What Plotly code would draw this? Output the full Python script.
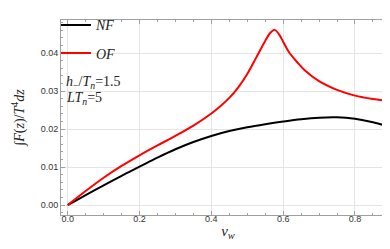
import plotly.graph_objects as go

v_nf = [0.0, 0.05, 0.1, 0.15, 0.2, 0.25, 0.3, 0.35, 0.4, 0.45, 0.5, 0.55,
        0.6, 0.65, 0.7, 0.75, 0.8, 0.85, 0.9]
nf = [0.0, 0.0026, 0.0052, 0.0077, 0.0101, 0.0125, 0.0147, 0.0166, 0.0182,
      0.0195, 0.0205, 0.0213, 0.0220, 0.0226, 0.0230, 0.0231, 0.0227, 0.0218, 0.0205]

v_of = [0.0, 0.05, 0.1, 0.15, 0.2, 0.25, 0.3, 0.35, 0.4, 0.425, 0.45, 0.475, 0.5,
        0.525, 0.55, 0.565, 0.5767, 0.59, 0.6, 0.615, 0.64, 0.66, 0.7, 0.75, 0.8,
        0.85, 0.9]
of = [0.0, 0.0037, 0.0072, 0.0103, 0.0131, 0.0157, 0.0182, 0.0209, 0.0241, 0.0260,
      0.0282, 0.0310, 0.0345, 0.0388, 0.0432, 0.0454, 0.0461, 0.0447, 0.0430, 0.0404,
      0.0375, 0.0355, 0.0326, 0.0303, 0.0288, 0.0279, 0.0273]

x_ticks = [0.0, 0.2, 0.4, 0.6, 0.8]
y_ticks = [0.00, 0.01, 0.02, 0.03, 0.04]

serif = "Liberation Serif"
sans = "Liberation Sans"

fig = go.Figure()
fig.add_trace(go.Scatter(x=v_nf, y=nf, mode="lines", name="NF", legendgroup="a",
                         line=dict(color="black", width=2, shape="spline", smoothing=1.0)))
fig.add_trace(go.Scatter(x=v_of, y=of, mode="lines", name="OF", legendgroup="b",
                         line=dict(color="#ff0000", width=2, shape="spline", smoothing=1.0)))

axis_common = dict(showline=True, linecolor="#a0a0a0", linewidth=1, mirror="allticks",
                   ticks="inside", ticklen=4, tickcolor="#a0a0a0", tickwidth=1,
                   showgrid=True, gridcolor="#e4e4e4", gridwidth=1, zeroline=False,
                   tickfont=dict(family=sans, size=9, color="#333333"))

fig.update_xaxes(range=[-0.0187, 0.9115], tickvals=x_ticks, tickformat=".1f",
                 minor=dict(ticks="inside", ticklen=2, tickcolor="#a0a0a0", dtick=0.05,
                            tick0=0, showgrid=False),
                 ticklabelstandoff=-5,
                 title=dict(text="<i>v<sub>w</sub></i>", font=dict(family=serif, size=15, color="#222"),
                            standoff=2),
                 **axis_common)
fig.update_yaxes(range=[-0.0026, 0.0487], tickvals=y_ticks, tickformat=".2f",
                 minor=dict(ticks="inside", ticklen=2, tickcolor="#a0a0a0", dtick=0.002,
                            tick0=0, showgrid=False),
                 title=dict(text="∫<i>F</i>(<i>z</i>)/<i>T</i><sup>4</sup><i>dz</i>",
                            font=dict(family=serif, size=14, color="#222"), standoff=12),
                 **axis_common)

fig.add_annotation(x=0.008, y=0.68, xref="paper", yref="paper", xanchor="left", yanchor="middle",
                   showarrow=False,
                   text="<i>h</i><sub>−</sub>/<i>T</i><sub><i>n</i></sub>=1.5",
                   font=dict(family=serif, size=14, color="#222"))
fig.add_annotation(x=0.008, y=0.595, xref="paper", yref="paper", xanchor="left", yanchor="middle",
                   showarrow=False,
                   text="<i>LT</i><sub><i>n</i></sub>=5",
                   font=dict(family=serif, size=14, color="#222"))

fig.update_layout(
    width=390, height=249,
    margin=dict(l=53, r=3, t=1, b=42),
    paper_bgcolor="white", plot_bgcolor="white",
    showlegend=True,
    legend=dict(x=-0.015, y=1.055, xanchor="left", yanchor="top", bgcolor="rgba(0,0,0,0)",
                font=dict(family=serif, size=14, color="#222", style="italic"), itemwidth=30,
                tracegroupgap=7, traceorder="grouped"),
)

fig.write_html("out.html")
